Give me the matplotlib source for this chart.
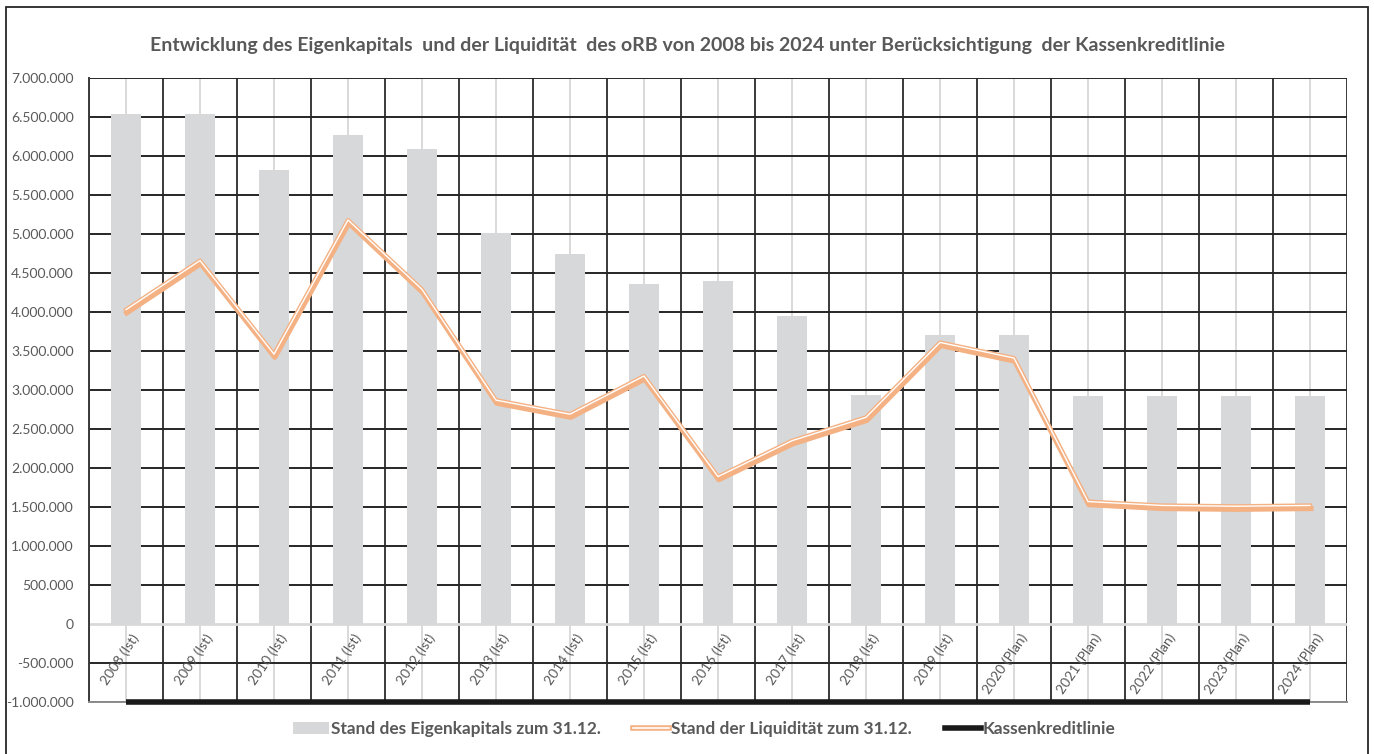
import matplotlib
matplotlib.use("Agg")
import matplotlib.pyplot as plt
import matplotlib.patheffects as pe
from matplotlib.lines import Line2D
from matplotlib.patches import Patch, Rectangle
from matplotlib.ticker import FuncFormatter, MultipleLocator

plt.rcParams['font.family'] = ['Lato', 'DejaVu Sans']

categories = ["2008 (Ist)", "2009 (Ist)", "2010 (Ist)", "2011 (Ist)", "2012 (Ist)",
              "2013 (Ist)", "2014 (Ist)", "2015 (Ist)", "2016 (Ist)", "2017 (Ist)",
              "2018 (Ist)", "2019 (Ist)", "2020 (Plan)", "2021 (Plan)", "2022 (Plan)",
              "2023 (Plan)", "2024 (Plan)"]
eigenkapital = [6540000, 6540000, 5820000, 6270000, 6090000, 5010000, 4740000,
                4360000, 4400000, 3950000, 2940000, 3710000, 3710000, 2920000,
                2920000, 2920000, 2920000]
liquiditaet = [4030000, 4660000, 3460000, 5180000, 4290000, 2870000, 2690000,
               3180000, 1890000, 2350000, 2650000, 3610000, 3410000, 1570000,
               1520000, 1510000, 1520000]
kassenkredit = [-1000000] * 17

text_gray = "#595959"
bar_gray = "#D7D8DA"
orange = "#F4B183"

fig = plt.figure(figsize=(13.74, 7.54), dpi=100)
ax = fig.add_axes([89 / 1374, 1 - 702 / 754, (1347 - 89) / 1374, (702 - 78) / 754])

x = list(range(len(categories)))

# grid: dark lines at category borders and value steps, light lines at category centres
for b in range(len(categories) + 1):
    ax.axvline(b - 0.5, color="#3a3a3a", lw=1.4, zorder=0)
for c in x:
    ax.axvline(c, color="#D9D9D9", lw=1.4, zorder=0)
for v in range(-1000000, 7000001, 500000):
    if v != 0:
        ax.axhline(v, color="#262626", lw=1.4, zorder=0)
ax.axhline(0, color="#D9D9D9", lw=2.0, zorder=1)

ax.bar(x, eigenkapital, width=0.4, color=bar_gray, zorder=2)

# Liquidität: double line with an orange drop shadow
ax.plot(x, liquiditaet, color="white", lw=1.0, zorder=4, solid_joinstyle="round",
        path_effects=[pe.SimpleLineShadow(offset=(0.6, -2.2), shadow_color=orange,
                                          alpha=1.0, linewidth=3.8),
                      pe.Stroke(linewidth=3.0, foreground=orange),
                      pe.Normal()])

ax.plot(x, kassenkredit, color="#1a1a1a", lw=4.0, solid_capstyle="butt",
        zorder=5, clip_on=False)

ax.set_xlim(-0.5, len(categories) - 0.5)
ax.set_ylim(-1000000, 7000000)
ax.yaxis.set_major_locator(MultipleLocator(500000))
ax.yaxis.set_major_formatter(FuncFormatter(lambda v, p: f"{int(v):,}".replace(",", ".")))
ax.tick_params(axis="y", length=0, pad=11, labelsize=10, labelcolor=text_gray)
ax.set_xticks([])
for c, lab in zip(x, categories):
    ax.text(c + 0.07, -100000, lab, rotation=56, rotation_mode="anchor",
            ha="right", va="top", fontsize=10, color=text_gray, zorder=6)

for side in ["top", "right"]:
    ax.spines[side].set_visible(False)
ax.spines["left"].set_color("#3a3a3a")
ax.spines["left"].set_linewidth(1.4)
ax.spines["bottom"].set_color("#8c8c8c")
ax.spines["bottom"].set_linewidth(1.4)

fig.text(0.5, 1 - 45 / 754,
         "Entwicklung des Eigenkapitals  und der Liquidität  des oRB von 2008 bis 2024 unter Berücksichtigung  der Kassenkreditlinie",
         ha="center", va="center", fontsize=14, fontweight="bold", color=text_gray)

handles = [
    Patch(facecolor=bar_gray, edgecolor="none", label="Stand des Eigenkapitals zum 31.12."),
    Line2D([], [], color="white", lw=1.2,
           path_effects=[pe.Stroke(linewidth=4.0, foreground=orange), pe.Normal()],
           label="Stand der Liquidität zum 31.12."),
    Line2D([], [], color="#1a1a1a", lw=4.0, label="Kassenkreditlinie"),
]
leg = fig.legend(handles=handles, loc="center", bbox_to_anchor=(704 / 1374, 1 - 729 / 754),
                 ncol=3, frameon=False, handlelength=2.1, handletextpad=0.1,
                 columnspacing=1.9, prop={"weight": "bold", "size": 12.4})
for t in leg.get_texts():
    t.set_color(text_gray)

fig.patches.append(Rectangle((6 / 1374, -0.05), (1368 - 6) / 1374, 1.05 - 7 / 754,
                             transform=fig.transFigure, fill=False,
                             edgecolor="#262626", lw=1.3))

fig.savefig("out.png", dpi=100)
